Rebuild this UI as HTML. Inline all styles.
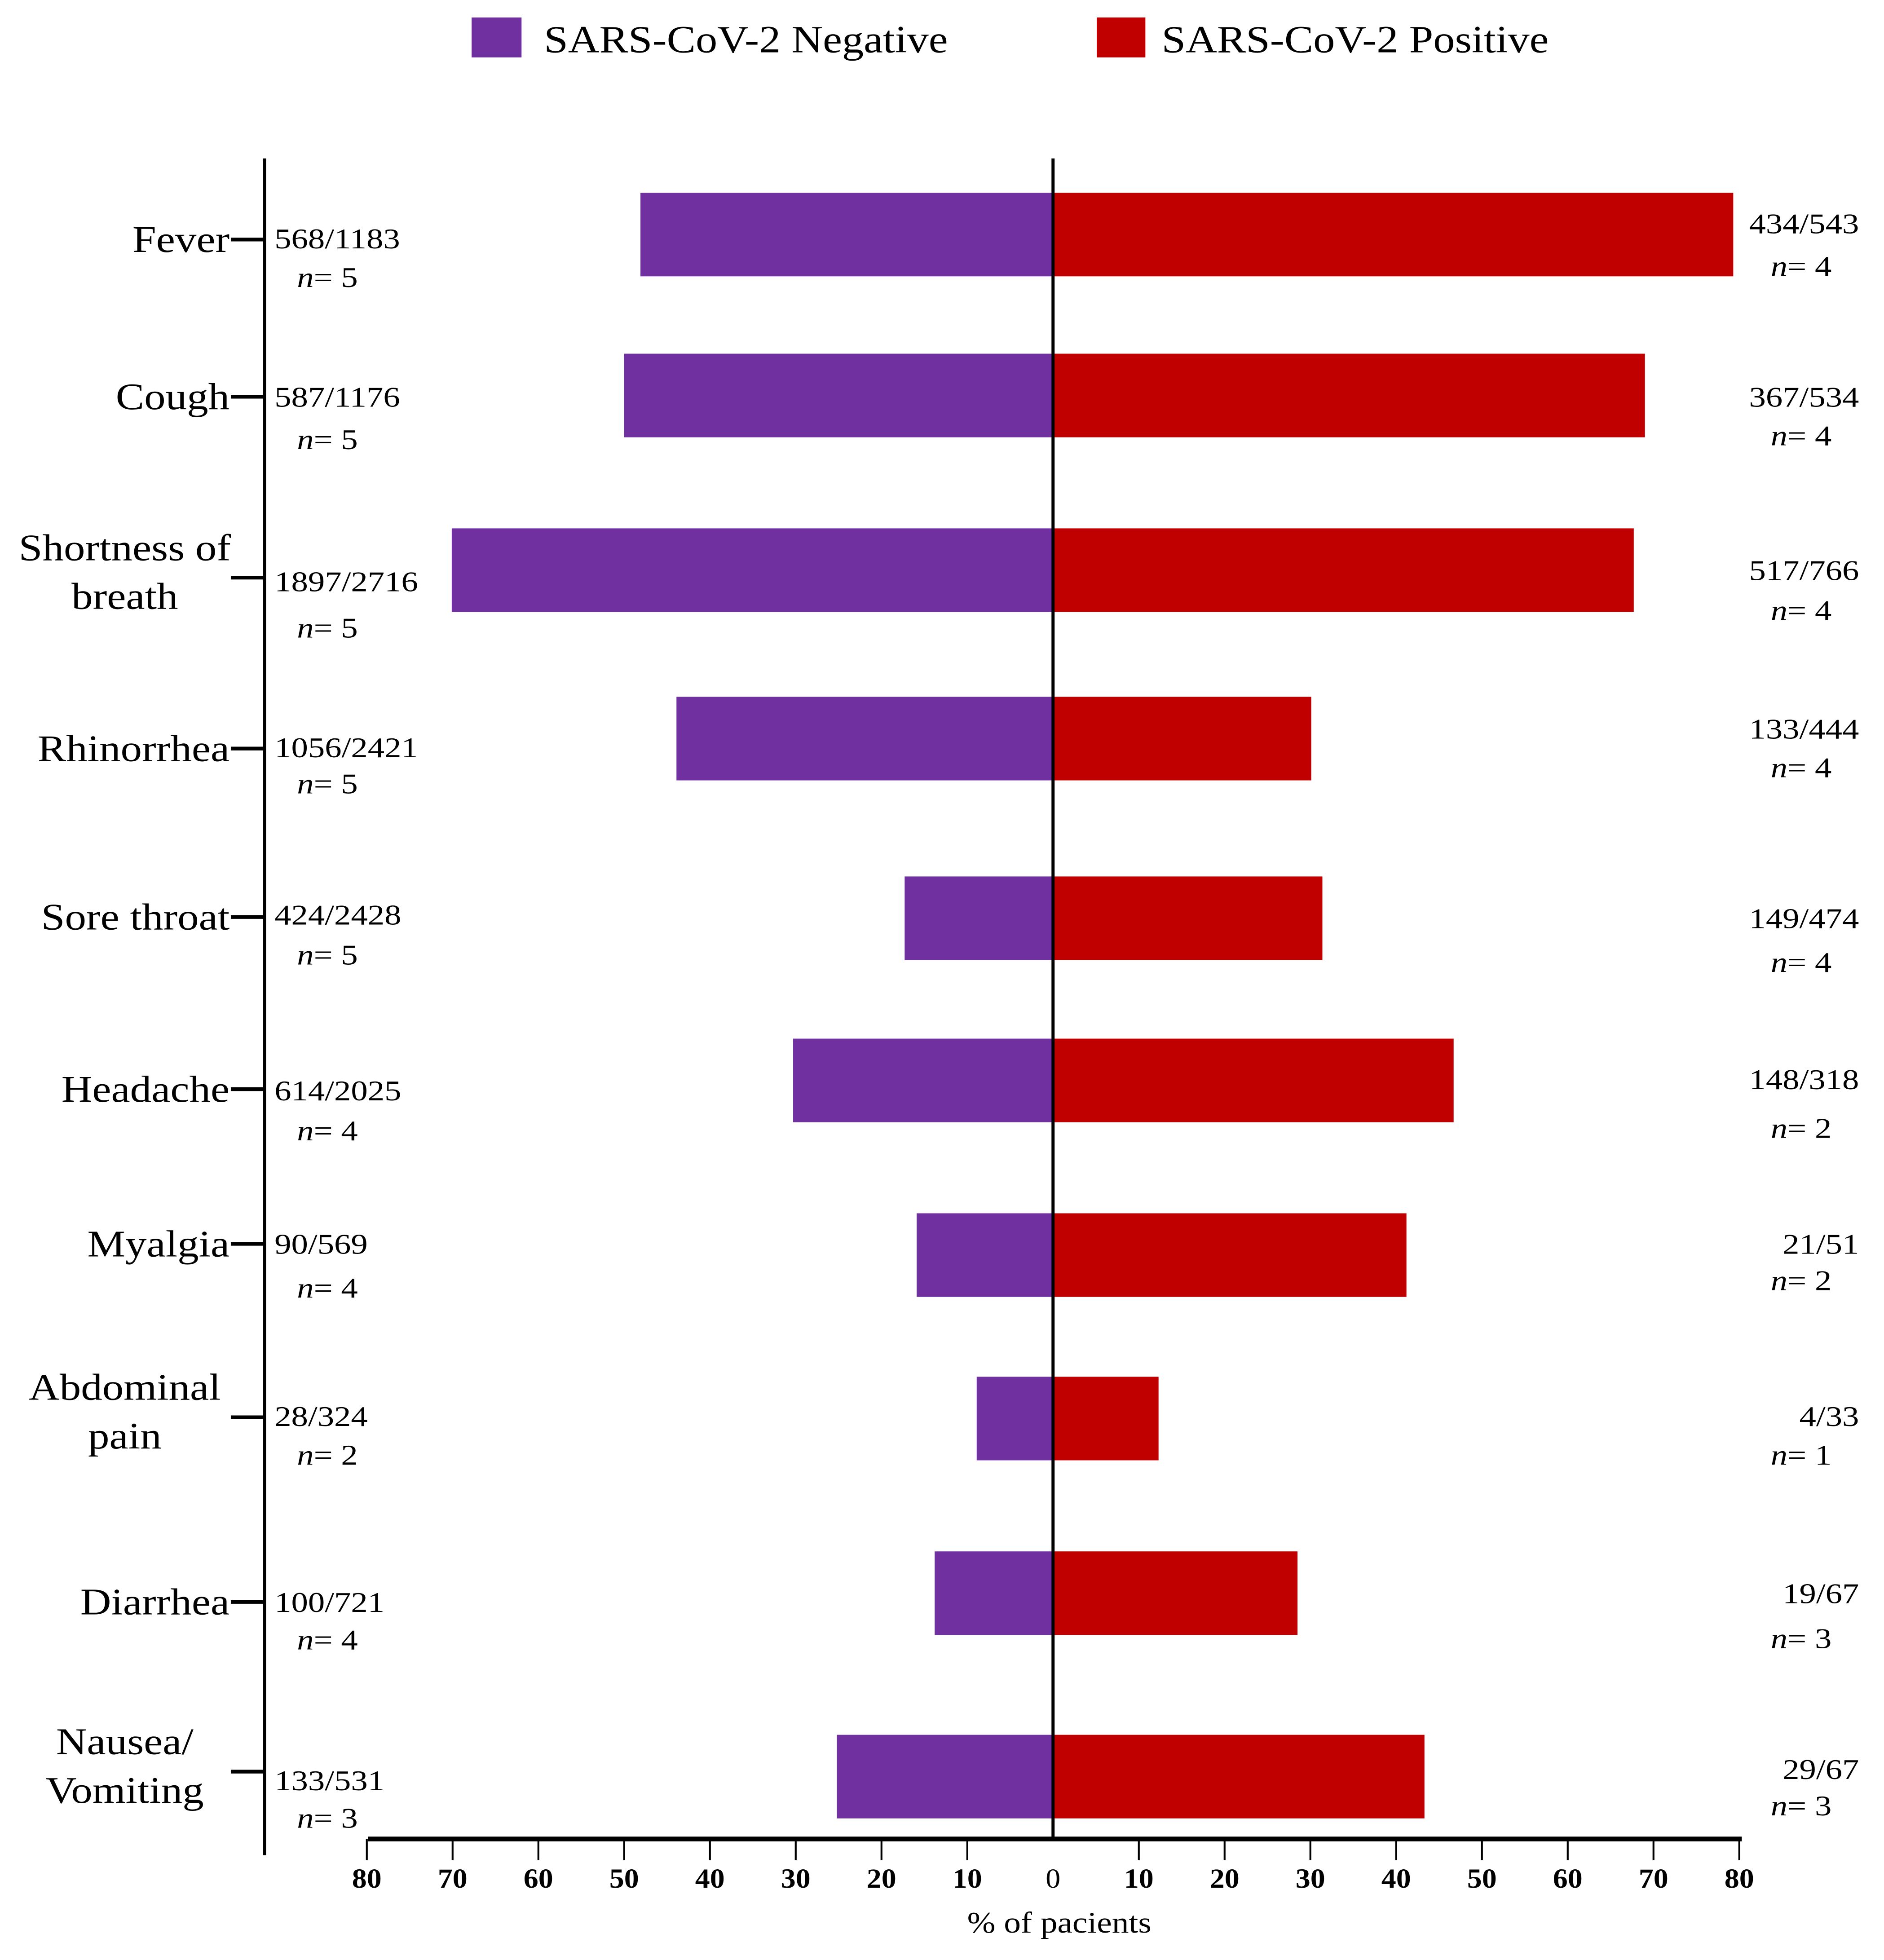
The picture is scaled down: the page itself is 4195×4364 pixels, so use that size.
<!DOCTYPE html>
<html><head><meta charset="utf-8">
<style>
html,body{margin:0;padding:0;background:#fff;}
svg{display:block;}
text{font-family:"Liberation Serif",serif;fill:#000;}
</style></head>
<body>
<svg id="chart" width="4195" height="4364" viewBox="0 0 1510 1571" preserveAspectRatio="none" xmlns="http://www.w3.org/2000/svg">
  <g>
    <rect x="378" y="14" width="40" height="32" fill="#7030a0"/>
    <text transform="translate(436,42) scale(1.12,1)" font-size="31">SARS-CoV-2 Negative</text>
    <rect x="879" y="14" width="39" height="32" fill="#c00000"/>
    <text transform="translate(931,42) scale(1.12,1)" font-size="31">SARS-CoV-2 Positive</text>
  </g>
  <g id="bars"></g>
  <g id="labels"></g>
  <g id="axes"></g>
  <text transform="translate(849,1549) scale(1.13,1)" font-size="24" text-anchor="middle">% of pacients</text>
</svg>
<script>
const categories = [["Fever"],["Cough"],["Shortness of","breath"],["Rhinorrhea"],["Sore throat"],["Headache"],["Myalgia"],["Abdominal","pain"],["Diarrhea"],["Nausea/","Vomiting"]];
const negValues = [48.1, 50.0, 70.1, 43.9, 17.3, 30.3, 15.9, 8.9, 13.8, 25.2];
const posValues = [79.3, 69.0, 67.7, 30.1, 31.4, 46.7, 41.2, 12.3, 28.5, 43.3];
const negFractions = ["568/1183","587/1176","1897/2716","1056/2421","424/2428","614/2025","90/569","28/324","100/721","133/531"];
const negN = ["5","5","5","5","5","4","4","2","4","3"];
const posFractions = ["434/543","367/534","517/766","133/444","149/474","148/318","21/51","4/33","19/67","29/67"];
const posN = ["4","4","4","4","4","2","2","1","3","3"];
const tickLabels = [80,70,60,50,40,30,20,10,0,10,20,30,40,50,60,70,80];

const NS = "http://www.w3.org/2000/svg";
const x0 = 844, unit = (1395 - 295) / 160;
function xNeg(v){ return x0 - v * unit; }
function xPos(v){ return x0 + v * unit; }
const barCenters = [188, 317, 457, 592, 736, 866, 1006, 1137, 1277, 1424];
const tickYs = [192, 318, 463, 600, 735, 873, 997, 1136, 1284, 1420];
const leftFracY = [191,318,466,599,733,874,997,1135,1284,1427];
const leftNY = [222,352,503,628,765,906,1032,1166,1314,1457];
const rightFracY = [179,318,457,584,736,865,997,1135,1277,1418];
const rightNY = [213,349,489,615,771,904,1026,1166,1313,1447];
const barH = 67;
function mk(tag, attrs, parent){ const e = document.createElementNS(NS, tag); for (const k in attrs) e.setAttribute(k, attrs[k]); parent.appendChild(e); return e; }
function tr(x, y, s){ return 'translate(' + x + ',' + y + ') scale(' + s + ',1)'; }
const gb = document.getElementById('bars'), gl = document.getElementById('labels'), ga = document.getElementById('axes');

categories.forEach((c, i) => {
  const yc = barCenters[i];
  const rn = mk('rect', {x: xNeg(negValues[i]), y: yc - barH/2, width: negValues[i]*unit, height: barH, fill: '#7030a0'}, gb);
  
  
  const rp = mk('rect', {x: x0, y: yc - barH/2, width: posValues[i]*unit, height: barH, fill: '#c00000'}, gb);
  
  

  const ty = tickYs[i];
  const tk = mk('line', {x1: 185, x2: 212, y1: ty, y2: ty, stroke: '#000', 'stroke-width': 3}, ga);
  
  

  let lab;
  if (c.length === 1) {
    lab = mk('text', {transform: tr(184, ty + 10, 1.14), 'font-size': 30, 'text-anchor': 'end'}, gl);
    lab.textContent = c[0];
  } else {
    lab = mk('text', {transform: tr(100, ty - 14, 1.14), 'font-size': 30, 'text-anchor': 'middle'}, gl);
    const t1 = mk('tspan', {x: 0, dy: 0}, lab); t1.textContent = c[0];
    const t2 = mk('tspan', {x: 0, dy: 39}, lab); t2.textContent = c[1];
  }
  
  

  const nf = mk('text', {transform: tr(220, leftFracY[i] + 8, 1.17), 'font-size': 23}, gl);
  nf.textContent = negFractions[i];
  
  
  const nn = mk('text', {transform: tr(238, leftNY[i] + 8, 1.17), 'font-size': 23}, gl);
  const it = mk('tspan', {'font-style': 'italic'}, nn); it.textContent = 'n';
  const rest = mk('tspan', {}, nn); rest.textContent = '= ' + negN[i];
  
  

  const pf = mk('text', {transform: tr(1490, rightFracY[i] + 8, 1.17), 'font-size': 23, 'text-anchor': 'end'}, gl);
  pf.textContent = posFractions[i];
  
  
  const pn = mk('text', {transform: tr(1468, rightNY[i] + 8, 1.17), 'font-size': 23, 'text-anchor': 'end'}, gl);
  const it2 = mk('tspan', {'font-style': 'italic'}, pn); it2.textContent = 'n';
  const rest2 = mk('tspan', {}, pn); rest2.textContent = '= ' + posN[i];
  
  
});

const la = mk('line', {x1: 212, x2: 212, y1: 127, y2: 1487, stroke: '#000', 'stroke-width': 2.5}, ga);


const zl = mk('line', {x1: x0, x2: x0, y1: 127, y2: 1474, stroke: '#000', 'stroke-width': 2.5}, ga);


const xa = mk('line', {x1: 295, x2: 1396, y1: 1474, y2: 1474, stroke: '#000', 'stroke-width': 3.8}, ga);



tickLabels.forEach((t, j) => {
  const x = j < 8 ? xNeg(t) : xPos(t);
  if (j !== 8) {
    const l = mk('line', {x1: x, x2: x, y1: 1474, y2: 1491, stroke: '#000', 'stroke-width': 1.5}, ga);
    
    
  }
  const tx = mk('text', {transform: tr(x, 1513, 1.08), 'font-size': 22, 'font-weight': j === 8 ? 'normal' : 'bold', 'text-anchor': 'middle'}, ga);
  tx.textContent = t;
  
  
});
</script>
</body></html>
